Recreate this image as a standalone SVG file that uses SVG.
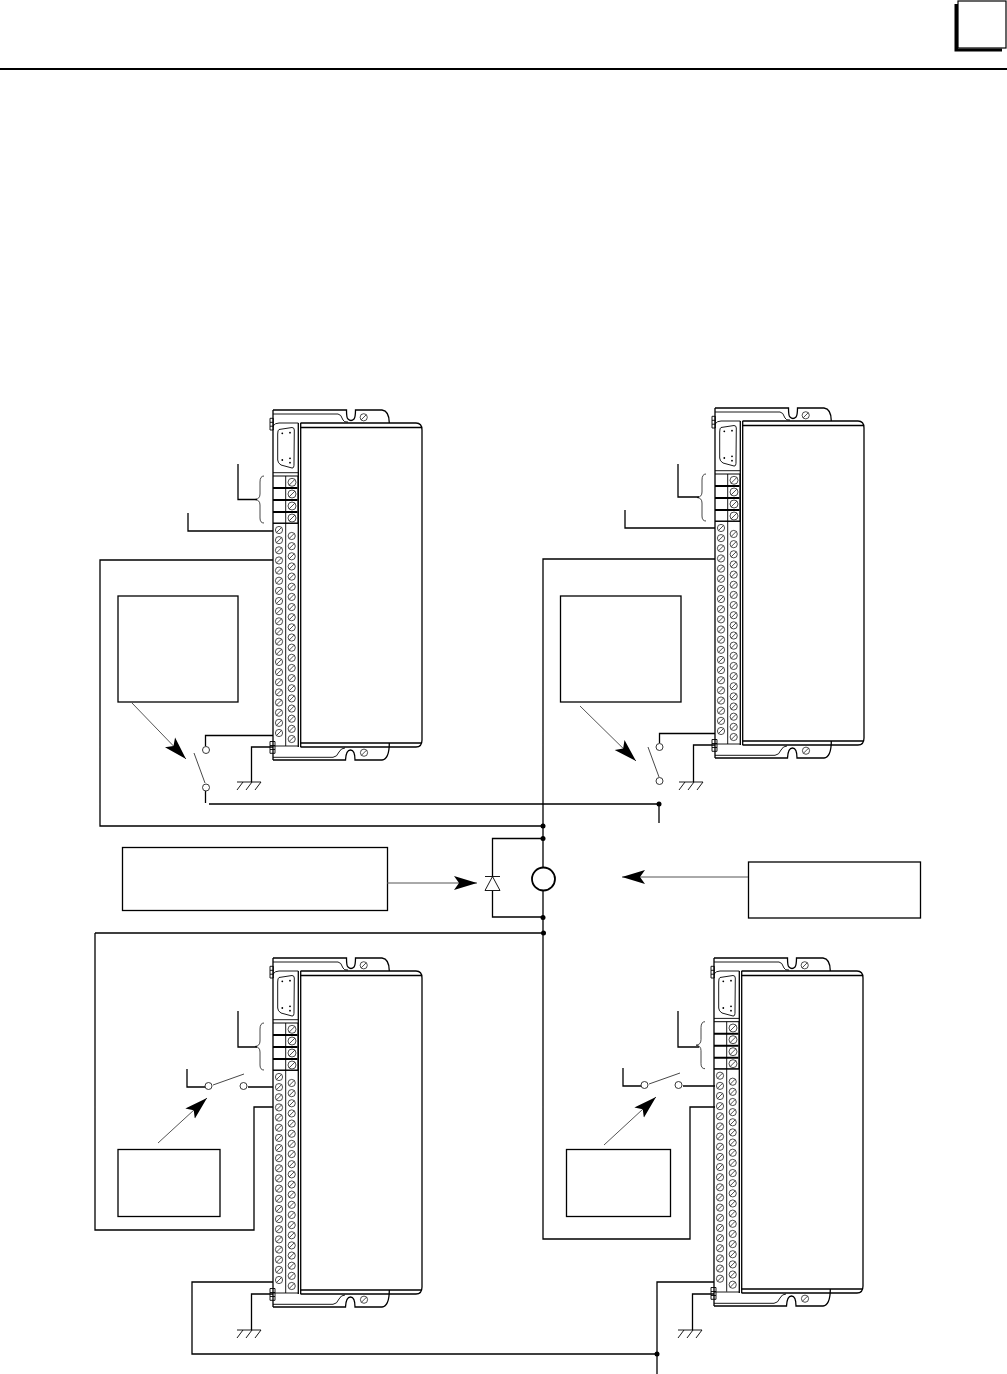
<svg xmlns="http://www.w3.org/2000/svg" width="1007" height="1374" viewBox="0 0 1007 1374">
<style>
.l{fill:none;stroke:#000;stroke-width:1.3}
.t{fill:none;stroke:#000;stroke-width:.9}
.g{fill:none;stroke:#333;stroke-width:.9}
.b{fill:#fff;stroke:#000;stroke-width:1.3}
.c{fill:#fff;stroke:#222;stroke-width:.9}
.d{fill:#000}
.a{fill:none;stroke:#555;stroke-width:1;marker-end:url(#h)}
</style>
<defs>
<marker id="h" markerUnits="userSpaceOnUse" markerWidth="26" markerHeight="18" viewBox="0 0 26 18" refX="23" refY="9" orient="auto">
<path d="M0 2L23 9L0 16L5 9Z" fill="#000"/>
</marker>
<g id="s"><circle r="3.600" fill="#fff" stroke="#222" stroke-width=".8"/><path d="M-2.500 2.500L2.500-2.500" stroke="#222" stroke-width=".8"/></g>
<g id="S"><circle r="4" fill="#fff" stroke="#222" stroke-width=".8"/><path d="M-2.900 2.900L2.900-2.900" stroke="#222" stroke-width=".8"/></g>
<g id="top">
<path class="l" d="M0 0H73.500Q73.500 8 75 9Q78 12 81 9Q82.500 7 82.500 0H109Q116.300 1 116.300 13"/>
<path class="t" d="M0 4H65Q68 4 70 10Q71 12.500 75 12"/>
<path class="l" d="M27.500 13H143Q149 13 149 20M27.500 17.500H149"/>
<path class="t" d="M0 16Q2 13 6 13H25.300"/>
<path class="t" d="M6 19.500L19 17.500Q21.300 17.500 21.300 20L21 53Q21.300 58.500 19 58L8 55Q4.700 53 4.700 50V24Q4.700 20 6 19.500Z"/>
<g class="d"><circle cx="9.300" cy="23.300" r=".9"/><circle cx="17" cy="22.700" r=".9"/><circle cx="9.300" cy="50" r=".9"/><circle cx="17" cy="48.300" r=".9"/><circle cx="17" cy="52.700" r=".9"/></g>
<use href="#s" x="90.700" y="7.300"/>
<path class="t" d="M-3 8.300H.3V20H-3ZM-3 12.300H.3M-3 16.200H.3" fill="#fff"/>
</g>
<g id="bot">
<path class="l" d="M27.500-13H143Q149-13 149-20M27.500-17H149"/>
<path class="t" d="M0-2.700H60Q64-3 66-8Q68-12 72-12"/>
<path class="l" d="M0 0H72.500Q73-10 77.500-10Q82-10 82 0H109Q116.300-1 116.300-17"/>
<path class="t" d="M0-14H25.300"/>
<use href="#s" x="91" y="-7.300"/>
<path class="t" d="M-3-18.500H2V-6.700H-3ZM-3-14.500H2M-3-10.500H2" fill="#fff"/>
</g>
<g id="blk">
<path class="t" d="M0-3.300H25.300M0 47.500H25.300"/>
<path d="M0 0H25V47H0" fill="none" stroke="#000" stroke-width="1"/>
<path d="M0 12H24.500M0 24H24.500M0 36H24.500" stroke="#000" stroke-width="2"/>
<path class="t" d="M12.700 0V270"/>
<use href="#S" x="19" y="6.300"/><use href="#S" x="19" y="18"/><use href="#S" x="19" y="30"/><use href="#S" x="19" y="42"/>
<use href="#s" x="6" y="54"/><use href="#s" x="6" y="64.150"/><use href="#s" x="6" y="74.300"/><use href="#s" x="6" y="84.450"/><use href="#s" x="6" y="94.600"/><use href="#s" x="6" y="104.750"/><use href="#s" x="6" y="114.900"/><use href="#s" x="6" y="125.050"/><use href="#s" x="6" y="135.200"/><use href="#s" x="6" y="145.350"/><use href="#s" x="6" y="155.500"/><use href="#s" x="6" y="165.650"/><use href="#s" x="6" y="175.800"/><use href="#s" x="6" y="185.950"/><use href="#s" x="6" y="196.100"/><use href="#s" x="6" y="206.250"/><use href="#s" x="6" y="216.400"/><use href="#s" x="6" y="226.550"/><use href="#s" x="6" y="236.700"/><use href="#s" x="6" y="246.850"/><use href="#s" x="6" y="257"/>
<use href="#s" x="18.700" y="60"/><use href="#s" x="18.700" y="70.150"/><use href="#s" x="18.700" y="80.300"/><use href="#s" x="18.700" y="90.450"/><use href="#s" x="18.700" y="100.600"/><use href="#s" x="18.700" y="110.750"/><use href="#s" x="18.700" y="120.900"/><use href="#s" x="18.700" y="131.050"/><use href="#s" x="18.700" y="141.200"/><use href="#s" x="18.700" y="151.350"/><use href="#s" x="18.700" y="161.500"/><use href="#s" x="18.700" y="171.650"/><use href="#s" x="18.700" y="181.800"/><use href="#s" x="18.700" y="191.950"/><use href="#s" x="18.700" y="202.100"/><use href="#s" x="18.700" y="212.250"/><use href="#s" x="18.700" y="222.400"/><use href="#s" x="18.700" y="232.550"/><use href="#s" x="18.700" y="242.700"/><use href="#s" x="18.700" y="252.850"/><use href="#s" x="18.700" y="263"/>
<path class="g" d="M-9 0Q-13 0 -13 6V18Q-13 23 -18 23.500Q-13 24 -13 29V42Q-13 47 -9 47"/>
</g>
<path id="gnd" class="t" d="M-14 0H10M-14 8L-8 0M-5 8L1 0M4 8L10 0"/>
</defs>

<g id="header">
<path d="M0 69H1007" stroke="#000" stroke-width="2"/>
<rect x="958" y="1" width="48" height="47" fill="#fff" stroke="#000" stroke-width="1.200"/>
<path d="M958 4H954.500V51.500H1002V48.500H958Z" fill="#000"/>
</g>

<g id="device-1" transform="translate(273 0)">
<path class="l" d="M0 410V760M25.300 423V747M27.700 423V747M149 430V740"/>
<use href="#top" y="410"/><use href="#bot" y="760"/><use href="#blk" y="476"/>
</g>
<g id="device-2" transform="translate(715 0)">
<path class="l" d="M0 408V758M25.300 421V745M27.700 421V745M149 428V738"/>
<use href="#top" y="408"/><use href="#bot" y="758"/><use href="#blk" y="474"/>
</g>
<g id="device-3" transform="translate(273 0)">
<path class="l" d="M0 958V1307M25.300 971V1294M27.700 971V1294M149 978V1287"/>
<use href="#top" y="958"/><use href="#bot" y="1307"/><use href="#blk" y="1023"/>
</g>
<g id="device-4" transform="translate(714 0)">
<path class="l" d="M0 958V1306M25.300 971V1293M27.700 971V1293M149 978V1286"/>
<use href="#top" y="958"/><use href="#bot" y="1306"/><use href="#blk" y="1021.700"/>
</g>

<g id="box-1"><rect class="b" x="118" y="596" width="120" height="106"/></g>
<g id="box-2"><rect class="b" x="560.500" y="596" width="120.500" height="106"/></g>
<g id="box-3"><rect class="b" x="118" y="1149.500" width="102" height="67"/></g>
<g id="box-4"><rect class="b" x="566.500" y="1149.500" width="104" height="67"/></g>
<g id="box-5"><rect class="b" x="122.500" y="847.500" width="265" height="63"/></g>
<g id="box-6"><rect class="b" x="748.500" y="862" width="172" height="56"/></g>

<g id="connectors">
<path class="l" d="M238 464V499.500H257M188 513V531H273M273 560H100V826H543M205.500 746V735.500H273M273 747H251.500V782M205.500 791V803M209 804H659M659 804V823"/>
<path class="l" d="M678 464V497H699M625 510V528H715M715 559H543V826M659.500 743V733.500H715M715 745H693.500V782"/>
<path class="l" d="M543 826V867M543 891V1239H690V1107H715M492.500 876V838.500H543M492.500 891V917H543M95 933H543M95 933V1230H254V1107H273"/>
<path class="l" d="M238 1011V1047H257M187 1069V1087H205M248 1087H273M273 1282H192V1354H657M273 1294H251.500V1330"/>
<path class="l" d="M678 1011V1047H699M623 1068V1086H641M683 1086H715M714 1282H657V1374M714 1294H692.500V1330"/>
<path class="g" d="M194 753L205 783M659 777L648 747M213 1085L244 1074M649 1084L680 1073"/>
<path class="a" d="M132 703L186 759"/>
<path class="a" d="M580 706L636 761"/>
<path class="a" d="M158 1143L207 1098"/>
<path class="a" d="M604 1145L656 1097"/>
<path class="a" d="M387 883H477"/>
<path class="a" d="M748 877H622"/>
<g class="d"><circle cx="543" cy="826" r="2.500"/><circle cx="543" cy="838.500" r="2.500"/><circle cx="543" cy="917.500" r="2.500"/><circle cx="543.500" cy="933" r="2.500"/><circle cx="659" cy="804" r="2.500"/><circle cx="657" cy="1354" r="2.500"/></g>
</g>

<g id="switches">
<circle class="c" cx="206" cy="750" r="3.500"/><circle class="c" cx="206" cy="787.500" r="3.500"/>
<circle class="c" cx="659.500" cy="747" r="3.500"/><circle class="c" cx="659.500" cy="781" r="3.500"/>
<circle class="c" cx="208.500" cy="1086" r="3.500"/><circle class="c" cx="243.500" cy="1086" r="3.500"/>
<circle class="c" cx="644.500" cy="1085" r="3.500"/><circle class="c" cx="678.500" cy="1085" r="3.500"/>
</g>
<g id="grounds">
<use href="#gnd" x="251" y="782"/><use href="#gnd" x="693" y="782"/><use href="#gnd" x="251" y="1330"/><use href="#gnd" x="692" y="1330"/>
</g>
<g id="diode"><path class="t" d="M485 876.500H500M492.500 876.500L485 890.500H500Z"/></g>
<g id="coil"><circle cx="543.500" cy="879" r="11.500" fill="#fff" stroke="#000" stroke-width="1.800"/></g>
</svg>
